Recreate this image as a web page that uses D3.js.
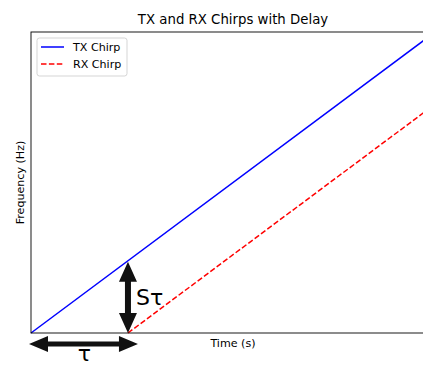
<!DOCTYPE html>
<html>
<head>
<meta charset="utf-8">
<script src="https://cdn.jsdelivr.net/npm/d3@7"></script>
<style>
  body { margin: 0; background: #fff; }
  svg { display: block; font-family: "DejaVu Sans", sans-serif; }
</style>
</head>
<body>
<div id="chart"></div>
<script>
/* données */
let txTime = [0, 1],
    txFreq = [0, 1],
    rxTime = [0.24, 1],
    rxFreq = [0, 0.76];
let delay = 0.24,
    delayFreq = 0.24; /* TX à t = delay */
let seriesNames = ['TX Chirp', 'RX Chirp'];

/* dimensions */
let width = 423,
    height = 365,
    margin = { left: 31, top: 32, right: -12, bottom: 32 };

let svg = d3.select('#chart').append('svg')
  .attr('width', width)
  .attr('height', height);

let xScale = d3.scaleLinear().domain([0, 1]).range([margin.left, width - margin.right]);
let yScale = d3.scaleLinear().domain([0, 1]).range([height - margin.bottom, margin.top]);

let line = d3.line()
  .x(d => xScale(d[0]))
  .y(d => yScale(d[1]));

/* courbes */
svg.append('path')
  .datum(d3.zip(txTime, txFreq))
  .attr('d', line)
  .attr('fill', 'none')
  .attr('stroke', '#0000ff')
  .attr('stroke-width', 1.5);

svg.append('path')
  .datum(d3.zip(rxTime, rxFreq))
  .attr('d', line)
  .attr('fill', 'none')
  .attr('stroke', '#ff0000')
  .attr('stroke-width', 1.5)
  .attr('stroke-dasharray', '5.5,2.4');

/* cadre */
svg.append('rect')
  .attr('x', xScale(0))
  .attr('y', yScale(1))
  .attr('width', xScale(1) - xScale(0))
  .attr('height', yScale(0) - yScale(1))
  .attr('fill', 'none')
  .attr('stroke', '#000')
  .attr('stroke-width', 0.9);

/* titre et axes */
let cx = (xScale(0) + xScale(1)) / 2;
svg.append('text')
  .attr('x', cx)
  .attr('y', yScale(1) - 8)
  .attr('text-anchor', 'middle')
  .style('font-size', '13.3px')
  .text('TX and RX Chirps with Delay');

svg.append('text')
  .attr('x', cx)
  .attr('y', yScale(0) + 14)
  .attr('text-anchor', 'middle')
  .style('font-size', '11.1px')
  .text('Time (s)');

svg.append('text')
  .attr('transform', 'translate(' + (xScale(0) - 7) + ',' + ((yScale(0) + yScale(1)) / 2) + ') rotate(-90)')
  .attr('text-anchor', 'middle')
  .style('font-size', '11.1px')
  .text('Frequency (Hz)');

/* flèche double */
function doubleArrow(x1, y1, x2, y2, shaft, headW, headL) {
  let dx = x2 - x1, dy = y2 - y1;
  let len = Math.sqrt(dx * dx + dy * dy);
  let ux = dx / len, uy = dy / len;
  let px = -uy, py = ux;
  let pt = (a, b) => [x1 + ux * a + px * b, y1 + uy * a + py * b];
  let pts = [
    pt(0, 0),
    pt(headL, headW / 2),
    pt(headL, shaft / 2),
    pt(len - headL, shaft / 2),
    pt(len - headL, headW / 2),
    pt(len, 0),
    pt(len - headL, -headW / 2),
    pt(len - headL, -shaft / 2),
    pt(headL, -shaft / 2),
    pt(headL, -headW / 2)
  ];
  svg.append('path')
    .attr('d', 'M' + pts.map(p => p.join(',')).join('L') + 'Z')
    .attr('fill', '#111');
}

/* flèche verticale : S*tau */
doubleArrow(xScale(delay), yScale(delayFreq) + 1, xScale(delay), yScale(0), 6, 18, 20);
svg.append('text')
  .attr('x', xScale(delay) + 8)
  .attr('y', (yScale(delayFreq) + yScale(0)) / 2 + 8)
  .style('font-size', '22px')
  .text('Sτ');

/* flèche horizontale : tau */
let yArrow = yScale(0) + 11;
doubleArrow(xScale(0) - 2, yArrow, xScale(delay) + 10, yArrow, 5, 16, 19);
svg.append('text')
  .attr('x', (xScale(0) + xScale(delay)) / 2 + 5)
  .attr('y', yArrow + 17)
  .attr('text-anchor', 'middle')
  .style('font-size', '22px')
  .text('τ');

/* légende */
let legend = svg.append('g')
  .attr('transform', 'translate(' + (xScale(0) + 6) + ',' + (yScale(1) + 6) + ')');
legend.append('rect')
  .attr('width', 90)
  .attr('height', 38)
  .attr('rx', 2.5)
  .attr('fill', '#fff')
  .attr('fill-opacity', 0.8)
  .attr('stroke', '#d0d0d0')
  .attr('stroke-width', 0.9);

seriesNames.forEach((name, i) => {
  let y = 9 + i * 17;
  legend.append('line')
    .attr('x1', 4).attr('x2', 27)
    .attr('y1', y).attr('y2', y)
    .attr('stroke', i === 0 ? '#0000ff' : '#ff0000')
    .attr('stroke-width', 1.5)
    .attr('stroke-dasharray', i === 0 ? null : '5.5,2.4');
  legend.append('text')
    .attr('x', 36)
    .attr('y', y + 4)
    .style('font-size', '11.1px')
    .text(name);
});
</script>
</body>
</html>
